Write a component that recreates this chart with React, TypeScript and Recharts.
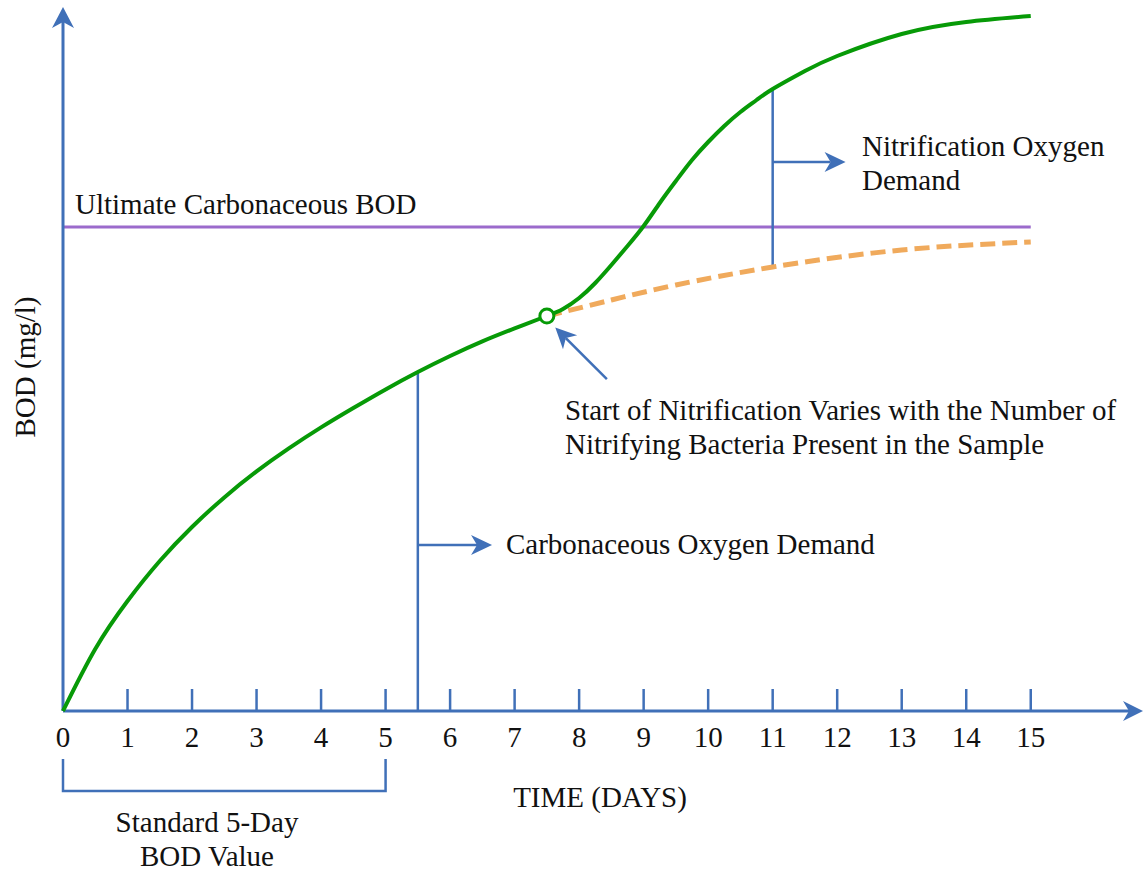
import React from "react";
import { ComposedChart, Line, XAxis, YAxis, ReferenceLine, ReferenceDot, Customized } from "recharts";

// readings (BOD in chart units, days)
const dayTicks = [0, 1, 2, 3, 4, 5, 6, 7, 8, 9, 10, 11, 12, 13, 14, 15];
const totalDays = [0, 0.5, 1, 1.5, 2, 2.5, 3, 3.5, 4, 4.5, 5, 5.5, 6, 6.5, 7, 7.5, 7.75, 8, 8.25, 8.5, 8.75, 9, 9.25, 9.5, 9.75, 10, 10.25, 10.5, 10.75, 11, 11.5, 12, 13, 14, 15];
const totalBod = [0, 31, 55, 75, 92, 106.8, 119.8, 131.3, 141.8, 151.5, 160.8, 169.5, 177.5, 184.8, 191.3, 197.5, 201, 206.5, 214, 223, 232.5, 242.5, 254, 265, 275.5, 284.5, 292.5, 299.5, 305.5, 311, 320, 327.5, 338.5, 344.5, 347.5];
const carbDays = [7.5, 8.5, 9.5, 11, 13, 15];
const carbBod = [197.5, 205.5, 213, 222, 230.5, 234.5];
const ultimateBod = 242;
const nitrificationStart = { day: 7.5, bod: 197.5 };
const bod5Day = 5.5;
const bod5Value = 169.5;
const nodDay = 11;
const nodLow = 222;
const nodHigh = 311;

const totalData = totalDays.map((d, i) => ({ day: d, bod: totalBod[i] }));
const carbData = carbDays.map((d, i) => ({ day: d, bod: carbBod[i] }));

const BLUE = "#4070b8";
const GREEN = "#079a07";
const ORANGE = "#f0aa5c";
const PURPLE = "#9b6bcc";
const FONT = "'Liberation Serif', 'Times New Roman', serif";
const FS = 29;

const makeArrow = (sw: number, L = 21, W = 10, N = 6) => (p: any) => {
  const { x1, y1, x2, y2 } = p;
  const dx = x2 - x1;
  const dy = y2 - y1;
  const len = Math.hypot(dx, dy) || 1;
  const ux = dx / len;
  const uy = dy / len;
  const px = -uy;
  const py = ux;
  const bx = x2 - ux * L;
  const by = y2 - uy * L;
  const nx = x2 - ux * (L - N);
  const ny = y2 - uy * (L - N);
  return (
    <g>
      <line x1={x1} y1={y1} x2={nx} y2={ny} stroke={BLUE} strokeWidth={sw} />
      <polygon points={`${x2},${y2} ${bx + px * W},${by + py * W} ${nx},${ny} ${bx - px * W},${by - py * W}`} fill={BLUE} />
    </g>
  );
};

const bracket = (p: any) => {
  const { x1, y1, x2, y2 } = p;
  return <path d={`M${x1},${y1} V${y2} H${x2} V${y1}`} fill="none" stroke={BLUE} strokeWidth={2.5} />;
};

const Tick = (p: any) => (
  <text x={p.x} y={p.y + 26} textAnchor="middle" dominantBaseline="central" fontFamily={FONT} fontSize={FS} fill="#111">
    {p.payload.value}
  </text>
);

const Labels = () => {
  const t = { fontFamily: FONT, fontSize: FS, fill: "#111", dominantBaseline: "central" as const };
  return (
    <g>
      <text {...t} x={75} y={204}>Ultimate Carbonaceous BOD</text>
      <text {...t} x={862} y={146}>Nitrification Oxygen</text>
      <text {...t} x={862} y={180}>Demand</text>
      <text {...t} x={565} y={410}>Start of Nitrification Varies with the Number of</text>
      <text {...t} x={565} y={444}>Nitrifying Bacteria Present in the Sample</text>
      <text {...t} x={506} y={544}>Carbonaceous Oxygen Demand</text>
      <text {...t} x={600} y={797} textAnchor="middle">TIME (DAYS)</text>
      <text {...t} x={207} y={822} textAnchor="middle">Standard 5-Day</text>
      <text {...t} x={207} y={856} textAnchor="middle">BOD Value</text>
      <text {...t} x={25} y={367} textAnchor="middle" transform="rotate(-90 25 367)">BOD (mg/l)</text>
    </g>
  );
};

export default function App() {
  return (
    <div style={{ position: "absolute", left: 0, top: 0, background: "#fff" }}>
      <ComposedChart width={1144} height={874} margin={{ top: 7, right: 1, bottom: 103, left: 63 }}>
        <XAxis
          type="number"
          dataKey="day"
          domain={[0, 16.74]}
          ticks={dayTicks}
          axisLine={false}
          tickLine={false}
          tickSize={0}
          tickMargin={0}
          height={60}
          tick={<Tick />}
          interval={0}
        />
        <YAxis type="number" domain={[0, 352]} hide />

        <ReferenceLine ifOverflow="visible" segment={[{ x: 0, y: ultimateBod }, { x: 15, y: ultimateBod }]} stroke={PURPLE} strokeWidth={3} />

        {dayTicks.slice(1).map((d) => (
          <ReferenceLine key={d} ifOverflow="visible" segment={[{ x: d, y: 0 }, { x: d, y: 11 }]} stroke={BLUE} strokeWidth={2.5} />
        ))}

        <ReferenceLine ifOverflow="visible" segment={[{ x: bod5Day, y: 0 }, { x: bod5Day, y: bod5Value }]} stroke={BLUE} strokeWidth={2.5} />
        <ReferenceLine ifOverflow="visible" segment={[{ x: bod5Day, y: 83 }, { x: 6.65, y: 83 }]} shape={makeArrow(2.5)} />
        <ReferenceLine ifOverflow="visible" segment={[{ x: nodDay, y: nodLow }, { x: nodDay, y: nodHigh }]} stroke={BLUE} strokeWidth={2.5} />
        <ReferenceLine ifOverflow="visible" segment={[{ x: nodDay, y: 274.5 }, { x: 12.13, y: 274.5 }]} shape={makeArrow(2.5)} />
        <ReferenceLine ifOverflow="visible" segment={[{ x: 8.43, y: 165.9 }, { x: 7.63, y: 191.8 }]} shape={makeArrow(2.5)} />
        <ReferenceLine ifOverflow="visible" segment={[{ x: 0, y: -24 }, { x: 5, y: -40 }]} shape={bracket} />

        <ReferenceLine ifOverflow="visible" segment={[{ x: 0, y: 0 }, { x: 16.74, y: 0 }]} shape={makeArrow(3, 20, 10, 6)} />
        <ReferenceLine ifOverflow="visible" segment={[{ x: 0, y: 0 }, { x: 0, y: 352 }]} shape={makeArrow(3, 21, 11, 6)} />

        <Line data={carbData} dataKey="bod" type="natural" stroke={ORANGE} strokeWidth={5} strokeDasharray="15 7" dot={false} isAnimationActive={false} />
        <Line data={totalData} dataKey="bod" type="natural" stroke={GREEN} strokeWidth={4} dot={false} isAnimationActive={false} />

        <ReferenceDot ifOverflow="visible" x={nitrificationStart.day} y={nitrificationStart.bod} r={7} fill="#fff" stroke={GREEN} strokeWidth={3} />

        <Customized component={<Labels />} />
      </ComposedChart>
    </div>
  );
}
